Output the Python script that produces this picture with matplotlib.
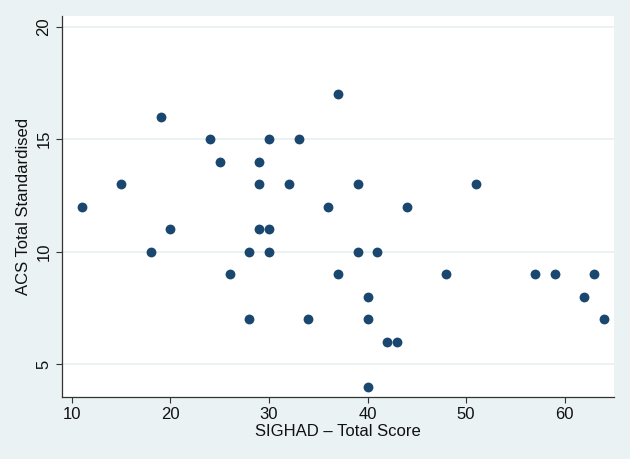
import matplotlib
matplotlib.use('Agg')
import matplotlib.pyplot as plt

# SIGHAD total score vs ACS total standardised
sighad = [11, 15, 18, 19, 20, 24, 25, 26, 28, 28, 29, 29, 29, 30, 30, 30, 32, 33, 34,
          36, 37, 37, 39, 39, 40, 40, 40, 41, 42, 43, 44, 48, 51, 57, 59, 62, 63, 64]
acs = [12, 13, 10, 16, 11, 15, 14, 9, 10, 7, 14, 13, 11, 15, 11, 10, 13, 15, 7,
       12, 17, 9, 13, 10, 8, 7, 4, 10, 6, 6, 12, 9, 13, 9, 9, 8, 9, 7]

x_ticks = [10, 20, 30, 40, 50, 60]
y_ticks = [5, 10, 15, 20]

plt.rcParams['font.family'] = ['Liberation Sans', 'DejaVu Sans']

bg = '#EAF2F3'
fig = plt.figure(figsize=(6.3, 4.59), dpi=100, facecolor=bg)
ax = fig.add_axes([0.0984, 0.1357, 0.8762, 0.8301])
ax.set_facecolor('white')

# gridlines horizontales
for yt in y_ticks:
    ax.axhline(yt, color=bg, lw=1.4, zorder=1)

ax.scatter(sighad, acs, s=50, color='#1a476f', zorder=3, linewidths=0)

ax.set_xlim(9.0, 65.0)
ax.set_ylim(3.55, 20.48)
ax.set_xticks(x_ticks)
ax.set_yticks(y_ticks)
ax.set_yticklabels([str(t) for t in y_ticks], rotation=90, va='center')

for s in ['top', 'right']:
    ax.spines[s].set_visible(False)
for s in ['left', 'bottom']:
    ax.spines[s].set_color('#333333')
    ax.spines[s].set_linewidth(0.9)

ax.tick_params(axis='both', direction='out', length=4.5, width=0.8, color='#333333',
               labelsize=12, labelcolor='#111111', pad=3)

ax.set_xlabel('SIGHAD \u2013 Total Score', fontsize=12, color='#111111', labelpad=1)
ax.set_ylabel('ACS Total Standardised', fontsize=12, color='#111111', labelpad=4)

plt.savefig('out.png', dpi=100, facecolor=bg)
plt.close()
